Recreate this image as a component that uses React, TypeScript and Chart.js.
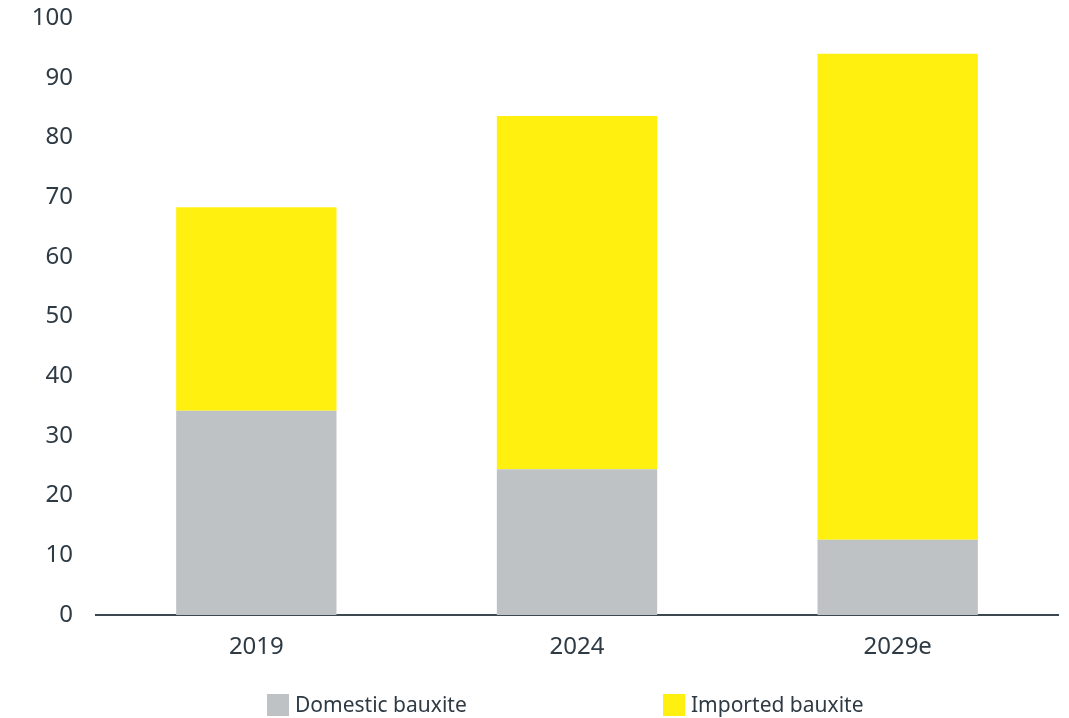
import React, { useEffect, useRef } from "react";
import { Chart, registerables } from "chart.js";

Chart.register(...registerables);

const categories = ["2019", "2024", "2029e"];
const domesticValues = [34.2, 24.4, 12.6];
const importedValues = [34.1, 59.2, 81.4];
const yTicks = [0, 10, 20, 30, 40, 50, 60, 70, 80, 90, 100];
const seriesNames = ["Domestic bauxite", "Imported bauxite"];
const seriesColors = ["#bfc2c5", "#fff00f"];

const FONT = "'Noto Sans', 'Open Sans', sans-serif";
const TEXT = "#2e3a44";

export default function App() {
  const ref = useRef<HTMLCanvasElement | null>(null);

  useEffect(() => {
    document.body.style.margin = "0";
    const ctx = ref.current!;
    const chart = new Chart(ctx, {
      type: "bar",
      data: {
        labels: categories,
        datasets: [
          {
            label: seriesNames[0],
            data: domesticValues,
            backgroundColor: seriesColors[0],
            categoryPercentage: 0.5,
            barPercentage: 1,
          },
          {
            label: seriesNames[1],
            data: importedValues,
            backgroundColor: seriesColors[1],
            categoryPercentage: 0.5,
            barPercentage: 1,
          },
        ],
      },
      options: {
        animation: false,
        responsive: false,
        maintainAspectRatio: false,
        layout: { padding: { top: 18, right: 11, bottom: 0, left: 0 } },
        plugins: { legend: { display: false }, tooltip: { enabled: false } },
        scales: {
          x: {
            stacked: true,
            grid: { display: false, drawTicks: false },
            border: { display: true, color: "#3b4850", width: 2 },
            ticks: { color: TEXT, font: { family: FONT, size: 24 }, padding: 18 },
            afterFit: (s: any) => {
              s.height = 103;
              s.paddingLeft = 0;
              s.paddingRight = 0;
            },
          },
          y: {
            stacked: true,
            min: 0,
            max: 100,
            afterBuildTicks: (s: any) => {
              s.ticks = yTicks.map((v) => ({ value: v }));
            },
            grid: { display: false, drawTicks: false },
            border: { display: false },
            ticks: { color: TEXT, font: { family: FONT, size: 24 }, padding: 23 },
            afterFit: (s: any) => {
              s.width = 96;
              s.paddingTop = 0;
              s.paddingBottom = 0;
            },
          },
        },
      },
    });
    return () => chart.destroy();
  }, []);

  return (
    <div style={{ position: "relative", width: 1069, height: 718, fontFamily: FONT }}>
      <canvas ref={ref} width={1069} height={718} style={{ display: "block" }} />
      <div
        style={{
          position: "absolute",
          left: 267,
          top: 693,
          display: "flex",
          alignItems: "center",
          color: TEXT,
          fontSize: 21,
          lineHeight: "23px",
        }}
      >
        <span style={{ width: 22, height: 22, background: seriesColors[0], marginRight: 6 }} />
        <span style={{ width: 368 }}>{seriesNames[0]}</span>
        <span style={{ width: 22, height: 22, background: seriesColors[1], marginRight: 6 }} />
        <span>{seriesNames[1]}</span>
      </div>
    </div>
  );
}
